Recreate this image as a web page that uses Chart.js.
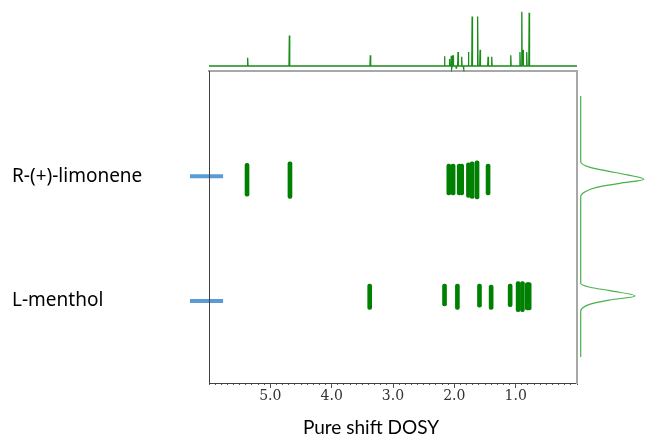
<!DOCTYPE html>
<html>
<head>
<meta charset="utf-8">
<script src="https://cdn.jsdelivr.net/npm/chart.js@4.4.1/dist/chart.umd.min.js"></script>
<style>
  body { margin: 0; background: #fff; }
  #wrap { position: relative; width: 645px; height: 439px; overflow: hidden; background: #fff; }
  canvas { position: absolute; }
  #title { position: absolute; left: 271px; width: 200px; top: 416px; line-height: 22px;
           text-align: center; font-family: Lato, 'Open Sans', sans-serif; font-size: 19px; color: #000; }
</style>
</head>
<body>
<div id="wrap">
  <canvas id="main" width="645" height="439" style="left:0;top:0"></canvas>
  <canvas id="spec" width="368" height="72" style="left:209px;top:0"></canvas>
  <canvas id="proj" width="67" height="312" style="left:578px;top:71px"></canvas>
  <div id="title">Pure shift DOSY</div>
</div>
<script>
// chemical shift axis (ppm), reversed
var xTicks = [5, 4, 3, 2, 1];

// compounds and their diffusion rows (arbitrary D units, 0..10)
var compounds = ['R-(+)-limonene', 'L-menthol'];
var compoundD = [6.63, 2.63];

// 1D pure shift spectrum on top: peak shifts and intensities
var specShift  = [5.37, 4.69, 3.37, 2.16, 2.08, 2.05, 2.04, 2.02, 1.97, 1.94, 1.88, 1.85, 1.77, 1.71, 1.62, 1.58, 1.45, 1.39, 1.08, 0.93, 0.90, 0.88, 0.82, 0.78];
var specHeight = [15,   56,   20,   18,   13,   19,   -5,   20,   -4,   26,   17,   -5,   26,   91,   91,   30,   17,   17,   20,   26,   100,  30,   26,   98];

// 2D DOSY cross peaks: shift and D extent of each blob
var limShift  = [5.38, 4.68, 2.09, 2.02, 1.92, 1.88, 1.77, 1.71, 1.63, 1.45];
var limTop    = [7.04, 7.09, 7.02, 7.02, 7.02, 7.02, 7.06, 7.09, 7.12, 7.02];
var limBottom = [5.99, 5.92, 6.03, 6.03, 6.03, 6.03, 5.95, 5.92, 5.90, 6.03];

var menShift  = [3.38, 2.16, 1.95, 1.59, 1.40, 1.09, 0.96, 0.89, 0.81, 0.78];
var menTop    = [3.17, 3.17, 3.17, 3.17, 3.14, 3.17, 3.25, 3.25, 3.22, 3.22];
var menBottom = [2.36, 2.47, 2.36, 2.43, 2.36, 2.45, 2.29, 2.29, 2.34, 2.34];

// diffusion projection on the right
var projD = [9.20, 7.09, 6.91, 6.80, 6.67, 6.53, 6.40, 6.27, 6.13, 5.97, 3.20, 3.07, 2.96, 2.79, 2.66, 2.53, 2.39, 2.29, 0.83];
var projI = [0,    0,    15,   41,   74,   100,  62,   25,   7,    0,    0,    15,   46,   86,   46,   15,   2,    0,    0];

var blobColor = '#008000';

function blobData(shift, bottom, top) {
    var out = [];
    for (var i = 0; i < shift.length; i++) {
        out.push({ x: shift[i], y: [bottom[i], top[i]] });
    }
    return out;
}

function blobSet(shift, bottom, top) {
    return {
        type: 'bar',
        data: blobData(shift, bottom, top),
        backgroundColor: blobColor,
        barThickness: 4,
        borderRadius: 2,
        borderSkipped: false,
        grouped: false
    };
}

function dashSet(d) {
    return {
        type: 'line',
        data: [{ x: 6.31, y: d }, { x: 5.77, y: d }],
        borderColor: '#5b9bd5',
        borderWidth: 4,
        pointRadius: 0,
        clip: false
    };
}

var minorTicks = [];
for (var t = 0; t <= 60; t++) minorTicks.push(t / 10);

new Chart(document.getElementById('main'), {
    type: 'bar',
    data: {
        datasets: [
            blobSet(limShift, limBottom, limTop),
            blobSet(menShift, menBottom, menTop),
            dashSet(compoundD[0]),
            dashSet(compoundD[1])
        ]
    },
    options: {
        responsive: false,
        animation: false,
        events: [],
        plugins: { legend: { display: false }, tooltip: { enabled: false } },
        layout: { padding: { left: 12, top: 71, right: 68, bottom: 24 } },
        scales: {
            x: {
                type: 'linear', position: 'bottom', reverse: true, min: 0, max: 6, weight: 0, offset: false,
                afterBuildTicks: function(s) { s.ticks = minorTicks.map(function(v) { return { value: v }; }); },
                ticks: { display: false },
                grid: { drawOnChartArea: false, offset: false, tickLength: 2, tickColor: '#555', tickWidth: 1 },
                border: { color: '#404040', width: 1 },
                afterFit: function(s) { s.height = 2; }
            },
            xMajor: {
                type: 'linear', position: 'bottom', reverse: true, min: 0, max: 6, weight: 1, offset: false,
                afterBuildTicks: function(s) { s.ticks = xTicks.map(function(v) { return { value: v }; }); },
                ticks: {
                    callback: function(v) { return Number(v).toFixed(1); },
                    font: { family: 'DejaVu Serif', size: 14, lineHeight: 1 },
                    color: '#333', padding: 1, maxRotation: 0, autoSkip: false
                },
                grid: { drawOnChartArea: false, offset: false, tickLength: 3, tickColor: '#555' },
                border: { display: false },
                afterFit: function(s) { s.height = 30; }
            },
            xTop: {
                type: 'linear', position: 'top', min: 0, max: 6, offset: false,
                ticks: { display: false }, grid: { display: false, offset: false },
                border: { color: '#a8a8a8', width: 2 },
                afterFit: function(s) { s.height = 0; }
            },
            y: {
                type: 'linear', position: 'left', min: 0, max: 10,
                afterBuildTicks: function(s) { s.ticks = compoundD.map(function(v) { return { value: v }; }); },
                ticks: {
                    callback: function(v, i) { return compounds[i]; },
                    crossAlign: 'far',
                    font: { family: 'Noto Sans', size: 19 },
                    color: '#000'
                },
                grid: { display: false },
                border: { color: '#404040', width: 1, z: 1 },
                afterFit: function(s) { s.width = 197; }
            },
            yRight: {
                type: 'linear', position: 'right', min: 0, max: 10,
                ticks: { display: false }, grid: { display: false },
                border: { color: '#a8a8a8', width: 2 },
                afterFit: function(s) { s.width = 0; }
            }
        }
    }
});

// top spectrum: each peak is a narrow spike on the baseline
var order = specShift.map(function(s, i) { return i; }).sort(function(a, b) { return specShift[b] - specShift[a]; });
var specPts = [{ x: 6, y: 0 }];
for (var k = 0; k < order.length; k++) {
    var i = order[k];
    specPts.push({ x: specShift[i] + 0.006, y: 0 });
    specPts.push({ x: specShift[i], y: specHeight[i] });
    specPts.push({ x: specShift[i] - 0.006, y: 0 });
}
specPts.push({ x: 0, y: 0 });

new Chart(document.getElementById('spec'), {
    type: 'line',
    data: { datasets: [{ data: specPts, borderColor: '#1a8c1a', borderWidth: 1.3, pointRadius: 0, tension: 0 }] },
    options: {
        responsive: false, animation: false, events: [],
        plugins: { legend: { display: false }, tooltip: { enabled: false } },
        scales: {
            x: { type: 'linear', reverse: true, min: 0, max: 6, display: false },
            y: { type: 'linear', min: -11, max: 121.5, display: false }
        }
    }
});

// diffusion projection
var projPts = projD.map(function(d, i) { return { x: projI[i], y: d }; });
new Chart(document.getElementById('proj'), {
    type: 'line',
    data: { datasets: [{ data: projPts, borderColor: '#49b049', borderWidth: 1.2, pointRadius: 0, cubicInterpolationMode: 'monotone' }] },
    options: {
        indexAxis: 'y',
        responsive: false, animation: false, events: [],
        plugins: { legend: { display: false }, tooltip: { enabled: false } },
        scales: {
            x: { type: 'linear', min: -4.27, max: 101.6, display: false },
            y: { type: 'linear', min: 0, max: 10, display: false }
        }
    }
});
</script>
</body>
</html>
